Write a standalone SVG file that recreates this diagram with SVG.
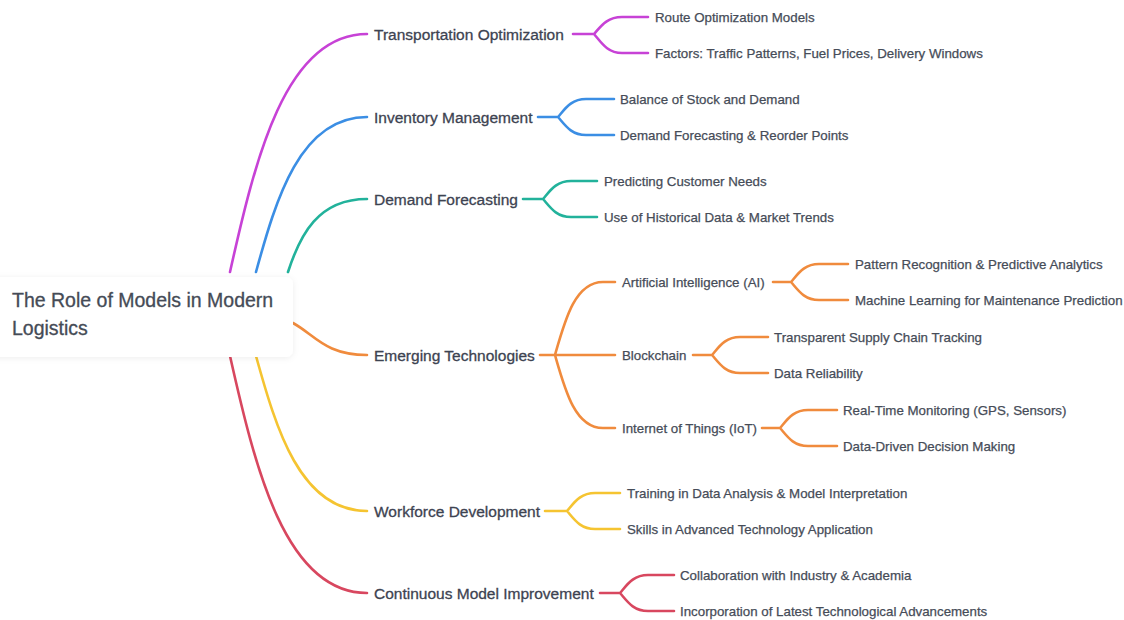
<svg xmlns="http://www.w3.org/2000/svg" width="1124" height="620" viewBox="0 0 1124 620">
<defs>
<filter id="sh" x="-10%" y="-30%" width="120%" height="160%">
<feDropShadow dx="0" dy="1" stdDeviation="3" flood-color="#000" flood-opacity="0.07"/>
</filter>
</defs>
<style>
text{font-family:"Liberation Sans",Arial,sans-serif;fill:#3d4351;stroke:#3d4351;stroke-width:0.3}
.root{font-size:19.5px;fill:#454b56;stroke:#454b56}
.l1{font-size:15.5px}
.l2{font-size:13.3px;fill:#464c58;stroke:#464c58;stroke-width:0.25}
path{fill:none;stroke-width:2.6;stroke-linecap:round}
.pu{stroke:#c742d6}.bl{stroke:#3b8ee4}.te{stroke:#22b29b}.or{stroke:#f08b3d}.ye{stroke:#f5c431}.re{stroke:#d8475f}
</style>
<rect width="1124" height="620" fill="#fff"/>
<g id="connectors">
<path class="pu" d="M230 272 C255 160 285 34 367 34"/>
<path class="bl" d="M256 272 C276 199 300 117 367 117"/>
<path class="te" d="M288 272 C300 235 318 199 367 199"/>
<path class="or" d="M293 323 C315 335 325 355 367 355"/>
<path class="ye" d="M256 356 C276 428 300 511 367 511"/>
<path class="re" d="M230 356 C255 467 285 593 367 593"/>

<path class="pu" d="M573 34 H594 M594 34 C601 26 607 17 622 17 H648 M594 34 C601 42 607 53 622 53 H648"/>
<path class="bl" d="M538 117 H558 M558 117 C565 109 571 99 586 99 H614 M558 117 C565 125 571 135 586 135 H614"/>
<path class="te" d="M523 199 H543 M543 199 C550 191 556 181 571 181 H597 M543 199 C550 207 556 217 571 217 H597"/>
<path class="or" d="M540 355 H555 M555 355 C565 320 575 282 603 282 H615 M555 355 H615 M555 355 C565 390 575 428 603 428 H615"/>
<path class="or" d="M773 282 H791 M791 282 C798 274 804 264 819 264 H848 M791 282 C798 290 804 300 819 300 H848"/>
<path class="or" d="M693 355 H712 M712 355 C719 347 725 337 740 337 H768 M712 355 C719 363 725 373 740 373 H768"/>
<path class="or" d="M762 428 H780 M780 428 C787 420 793 410 808 410 H837 M780 428 C787 436 793 446 808 446 H837"/>
<path class="ye" d="M545 511 H567 M567 511 C574 503 580 493 595 493 H620 M567 511 C574 519 580 529 595 529 H620"/>
<path class="re" d="M600 593 H620 M620 593 C627 585 633 575 648 575 H674 M620 593 C627 601 633 611 648 611 H674"/>
</g>
<g id="root">
<rect x="-8" y="277" width="301" height="80" rx="7" fill="#fff" filter="url(#sh)"/>
<text class="root" x="12" y="307">The Role of Models in Modern</text>
<text class="root" x="12" y="335">Logistics</text>
</g>
<g id="transportation"><text class="l1" x="374" y="39.5">Transportation Optimization</text></g>
<g id="route"><text class="l2" x="655" y="21.5">Route Optimization Models</text></g>
<g id="factors"><text class="l2" x="655" y="57.5">Factors: Traffic Patterns, Fuel Prices, Delivery Windows</text></g>
<g id="inventory"><text class="l1" x="374" y="122.5">Inventory Management</text></g>
<g id="balance"><text class="l2" x="620" y="103.5">Balance of Stock and Demand</text></g>
<g id="reorder"><text class="l2" x="620" y="139.5">Demand Forecasting &amp; Reorder Points</text></g>
<g id="demand"><text class="l1" x="374" y="204.5">Demand Forecasting</text></g>
<g id="predicting"><text class="l2" x="604" y="185.5">Predicting Customer Needs</text></g>
<g id="historical"><text class="l2" x="604" y="221.5">Use of Historical Data &amp; Market Trends</text></g>
<g id="emerging"><text class="l1" x="374" y="360.5">Emerging Technologies</text></g>
<g id="ai"><text class="l2" x="622" y="286.5">Artificial Intelligence (AI)</text></g>
<g id="pattern"><text class="l2" x="855" y="268.5">Pattern Recognition &amp; Predictive Analytics</text></g>
<g id="ml"><text class="l2" x="855" y="304.5">Machine Learning for Maintenance Prediction</text></g>
<g id="blockchain"><text class="l2" x="622" y="359.5">Blockchain</text></g>
<g id="transparent"><text class="l2" x="774" y="341.5">Transparent Supply Chain Tracking</text></g>
<g id="reliability"><text class="l2" x="774" y="377.5">Data Reliability</text></g>
<g id="iot"><text class="l2" x="622" y="432.5">Internet of Things (IoT)</text></g>
<g id="realtime"><text class="l2" x="843" y="414.5">Real-Time Monitoring (GPS, Sensors)</text></g>
<g id="datadriven"><text class="l2" x="843" y="450.5">Data-Driven Decision Making</text></g>
<g id="workforce"><text class="l1" x="374" y="516.5">Workforce Development</text></g>
<g id="training"><text class="l2" x="627" y="497.5">Training in Data Analysis &amp; Model Interpretation</text></g>
<g id="skills"><text class="l2" x="627" y="533.5">Skills in Advanced Technology Application</text></g>
<g id="continuous"><text class="l1" x="374" y="598.5">Continuous Model Improvement</text></g>
<g id="collaboration"><text class="l2" x="680" y="579.5">Collaboration with Industry &amp; Academia</text></g>
<g id="incorporation"><text class="l2" x="680" y="615.5">Incorporation of Latest Technological Advancements</text></g>
</svg>
